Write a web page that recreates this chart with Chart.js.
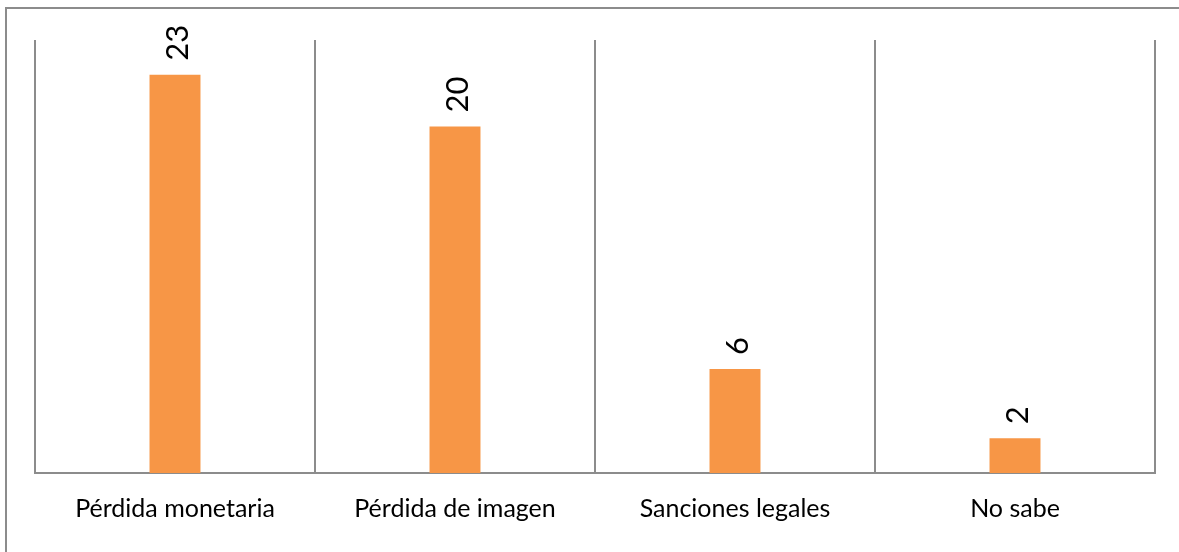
<!DOCTYPE html>
<html>
<head>
<meta charset="utf-8">
<script src="https://cdn.jsdelivr.net/npm/chart.js@4/dist/chart.umd.min.js"></script>
<style>
  html, body { margin: 0; padding: 0; background: #ffffff; }
  #wrap { width: 1179px; height: 552px; }
</style>
</head>
<body>
<div id="wrap"><canvas id="c" width="1179" height="552"></canvas></div>
<script>
// Categories and counts
const categories = ['Pérdida monetaria', 'Pérdida de imagen', 'Sanciones legales', 'No sabe'];
const counts = [23, 20, 6, 2];

const FONT = 'Lato, "Open Sans", sans-serif';
const LINE = '#8c8c8c';

// Outer frame of the figure
const framePlugin = {
  id: 'frame',
  beforeDraw(chart) {
    const ctx = chart.ctx;
    ctx.save();
    ctx.fillStyle = '#ffffff';
    ctx.fillRect(0, 0, chart.width, chart.height);
    ctx.strokeStyle = LINE;
    ctx.lineWidth = 2;
    ctx.strokeRect(6, 8, chart.width + 20, chart.height + 20);
    ctx.restore();
  }
};

// Rotated value labels above each bar
const valueLabels = {
  id: 'valueLabels',
  afterDatasetsDraw(chart) {
    const ctx = chart.ctx;
    const meta = chart.getDatasetMeta(0);
    const data = chart.data.datasets[0].data;
    ctx.save();
    ctx.fillStyle = '#000000';
    ctx.font = '31px ' + FONT;
    ctx.textAlign = 'left';
    ctx.textBaseline = 'middle';
    meta.data.forEach((bar, i) => {
      ctx.save();
      ctx.translate(bar.x + 3, bar.y - 14);
      ctx.rotate(-Math.PI / 2);
      ctx.fillText(String(data[i]), 0, 0);
      ctx.restore();
    });
    ctx.restore();
  }
};

new Chart(document.getElementById('c'), {
  type: 'bar',
  data: {
    labels: categories,
    datasets: [{
      data: counts,
      backgroundColor: '#F79646',
      borderWidth: 0,
      categoryPercentage: 1,
      barPercentage: 0.182
    }]
  },
  options: {
    responsive: false,
    animation: false,
    devicePixelRatio: 1,
    layout: { padding: { left: 35, right: 24, top: 40, bottom: 0 } },
    plugins: {
      legend: { display: false },
      tooltip: { enabled: false }
    },
    scales: {
      x: {
        offset: true,
        afterFit(scale) { scale.height = 79; },
        grid: {
          offset: true,
          color: LINE,
          lineWidth: 2,
          drawTicks: false,
          tickLength: 0
        },
        border: { display: true, color: LINE, width: 2 },
        ticks: {
          color: '#000000',
          font: { family: FONT, size: 25 },
          padding: 21,
          maxRotation: 0
        }
      },
      y: {
        display: false,
        min: 0,
        max: 25
      }
    }
  },
  plugins: [framePlugin, valueLabels]
});
</script>
</body>
</html>
